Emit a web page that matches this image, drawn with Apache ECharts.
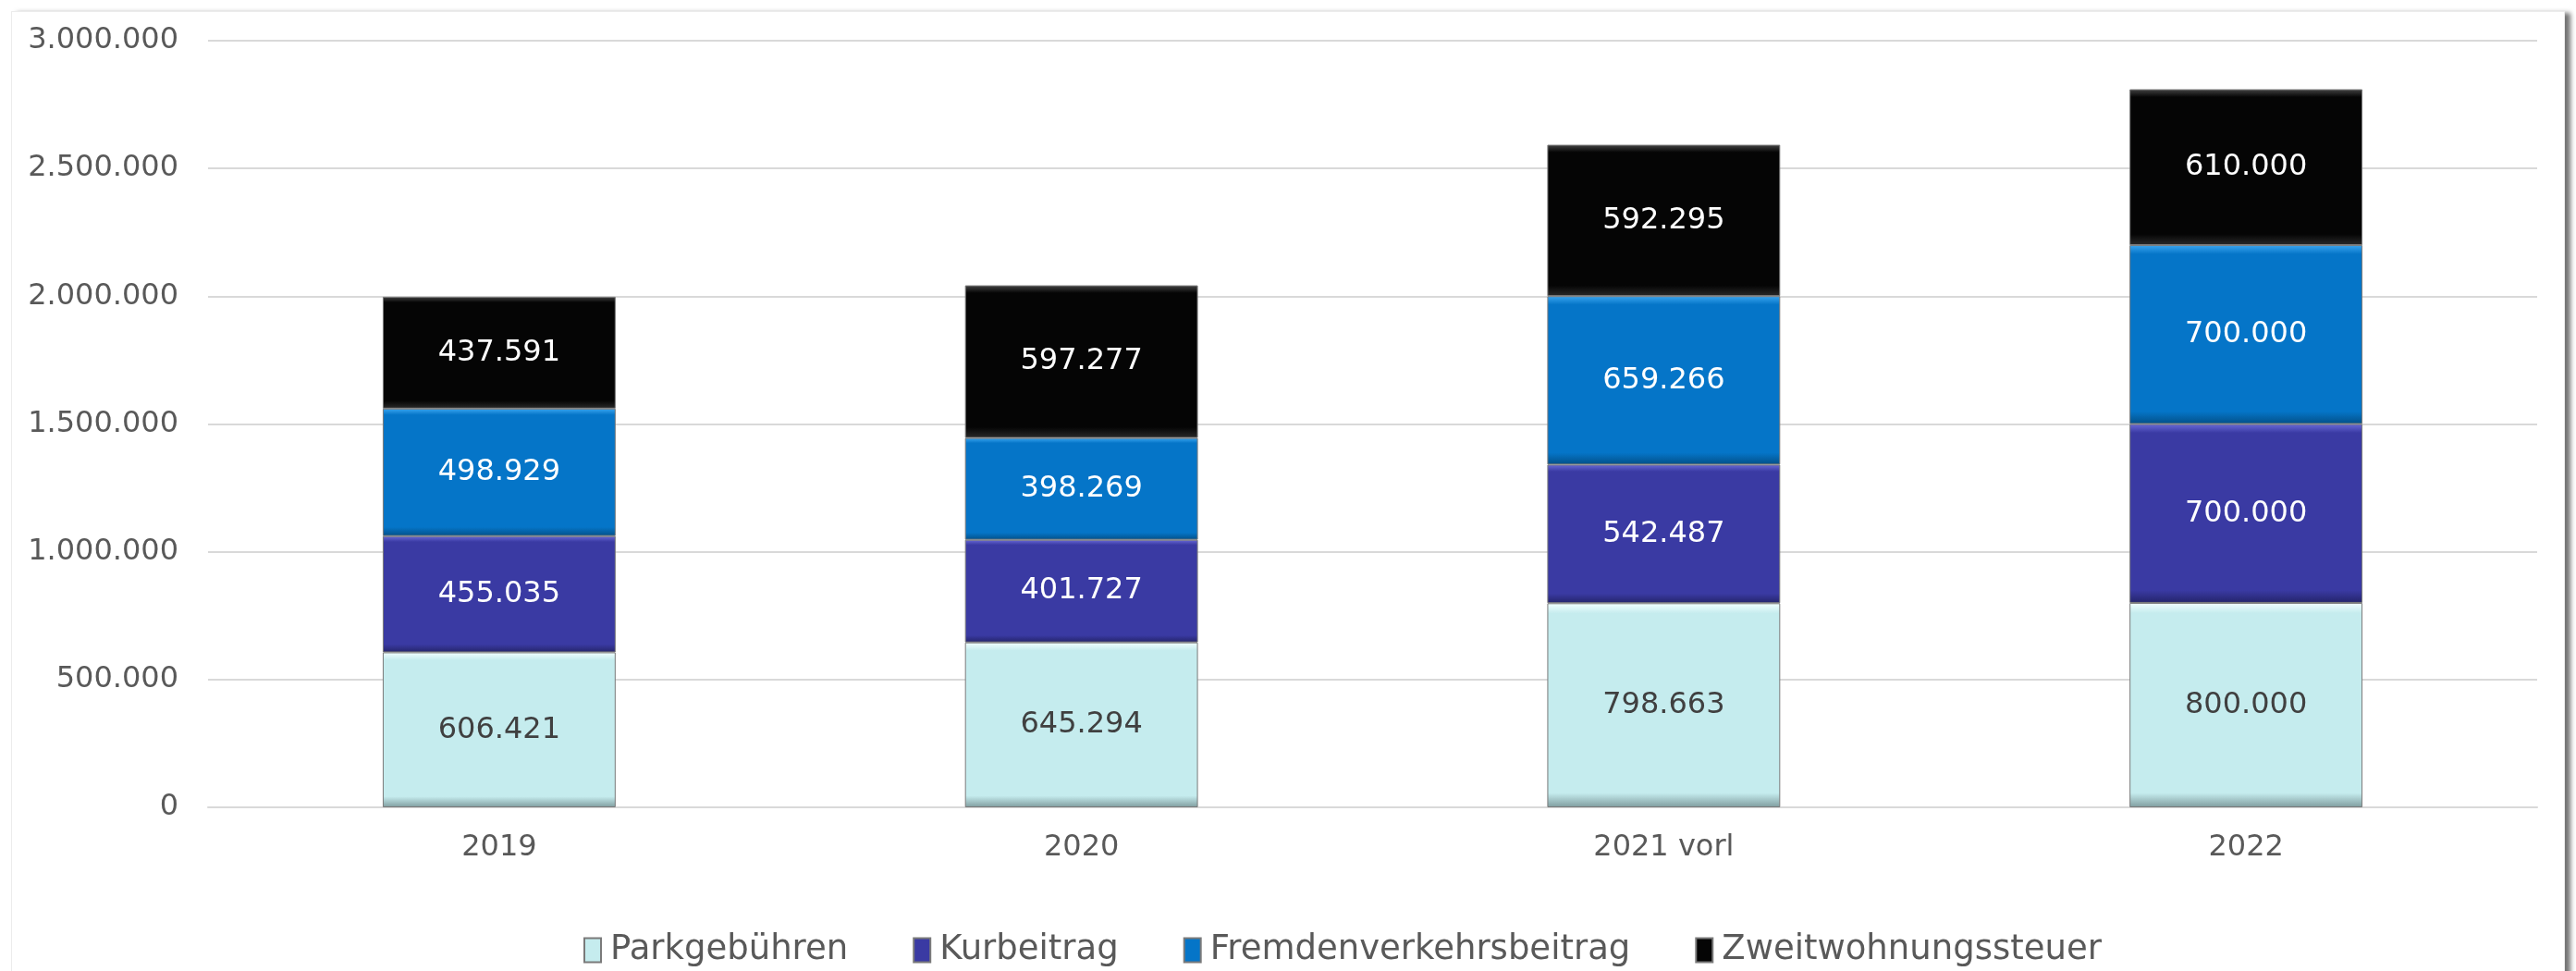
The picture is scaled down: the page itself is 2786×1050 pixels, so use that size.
<!DOCTYPE html>
<html>
<head>
<meta charset="utf-8">
<script src="https://cdn.jsdelivr.net/npm/echarts@6/dist/echarts.min.js"></script>
<style>
    html, body { margin: 0; padding: 0; background: #fff; }
    #rahmen {
        position: absolute; left: 12px; top: 12px; width: 2760px; height: 1100px;
        border: 1px solid #ececec; background: #fff;
        box-shadow: 6px 2px 5px rgba(0,0,0,0.55);
    }
    #einnahmen { position: absolute; left: 0; top: 0; width: 2786px; height: 1050px; }
</style>
</head>
<body>
<div id="rahmen"></div>
<div id="einnahmen"></div>
<script>
// Jahre (Kategorien)
var jahre = ['2019', '2020', '2021 vorl', '2022']
// Werte je Einnahmeart
var parkgebuehren = [606421, 645294, 798663, 800000]
var kurbeitrag = [455035, 401727, 542487, 700000]
var fremdenverkehrsbeitrag = [498929, 398269, 659266, 700000]
var zweitwohnungssteuer = [437591, 597277, 592295, 610000]
var reihenNamen = ['Parkgebühren', 'Kurbeitrag', 'Fremdenverkehrsbeitrag', 'Zweitwohnungssteuer']

// Zahl mit Punkt als Tausendertrenner
function tausender (wert) {
    return String(Math.round(wert)).replace(/\B(?=(\d{3})+(?!\d))/g, '.')
}

// Balkenfarbe mit etwas Kante oben/unten
function kante (hell, mitte, dunkel) {
    return new echarts.graphic.LinearGradient(0, 0, 0, 1, [
        { offset: 0, color: hell },
        { offset: 0.05, color: mitte },
        { offset: 0.93, color: mitte },
        { offset: 1, color: dunkel }
    ])
}

function reihe (name, daten, farbe, textFarbe) {
    return {
        name: name,
        type: 'bar',
        stack: 'summe',
        barWidth: '40%',
        data: daten,
        itemStyle: { color: farbe, borderColor: '#7a7a7a', borderWidth: 1 },
        label: {
            show: true,
            position: 'inside',
            color: textFarbe,
            fontSize: 32,
            fontFamily: 'DejaVu Sans',
            formatter: function (p) { return tausender(p.value) }
        }
    }
}

var einnahmenDom = document.getElementById('einnahmen')
var einnahmenChart = echarts.init(einnahmenDom)

var einnahmen = {
    backgroundColor: 'transparent',
    animation: false,
    color: ['#c5ecee', '#3a3aa3', '#0575c8', '#050505'],
    grid: { left: 225, right: 42, top: 44, bottom: 177 },
    legend: {
        data: reihenNamen,
        top: 1004,
        left: 626,
        icon: 'rect',
        itemWidth: 18,
        itemHeight: 26,
        itemGap: 70,
        textStyle: { fontSize: 37, color: '#595959', fontFamily: 'DejaVu Sans', padding: [0, 0, 0, 5] }
    },
    xAxis: {
        type: 'category',
        data: jahre,
        axisLine: { lineStyle: { color: '#d9d9d9', width: 2 } },
        axisTick: { show: false },
        axisLabel: { color: '#595959', fontSize: 32, fontFamily: 'DejaVu Sans', margin: 28 }
    },
    yAxis: {
        type: 'value',
        min: 0,
        max: 3000000,
        interval: 500000,
        axisLine: { show: false },
        axisTick: { show: false },
        splitLine: { lineStyle: { color: '#d9d9d9', width: 2 } },
        axisLabel: {
            color: '#595959', fontSize: 32, fontFamily: 'DejaVu Sans', margin: 32,
            formatter: function (v) { return tausender(v) }
        }
    },
    series: [
        reihe(reihenNamen[0], parkgebuehren, kante('#f2ffff', '#c5ecee', '#7f9c9e'), '#404040'),
        reihe(reihenNamen[1], kurbeitrag, kante('#6a6ad8', '#3a3aa3', '#24246a'), '#ffffff'),
        reihe(reihenNamen[2], fremdenverkehrsbeitrag, kante('#3aa6f0', '#0575c8', '#035088'), '#ffffff'),
        reihe(reihenNamen[3], zweitwohnungssteuer, kante('#444444', '#050505', '#2a2a2a'), '#ffffff')
    ]
}

einnahmenChart.setOption(einnahmen)

window.onresize = function () {
    einnahmenChart.resize()
}
</script>
</body>
</html>
